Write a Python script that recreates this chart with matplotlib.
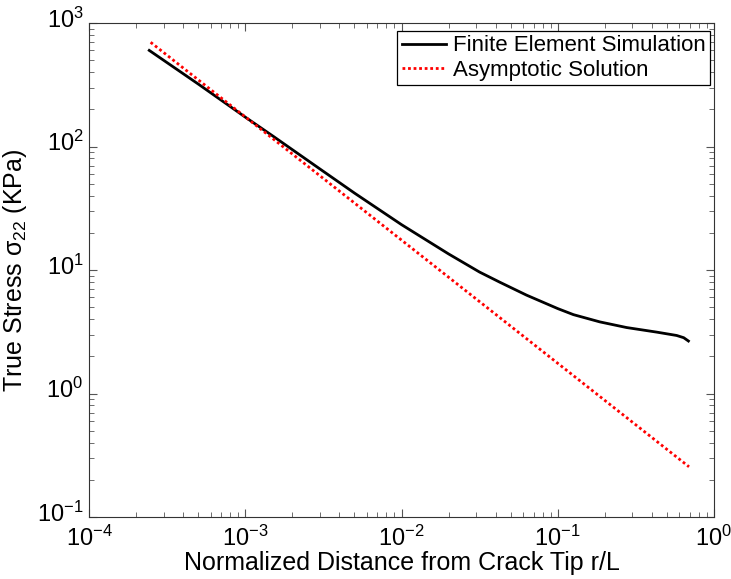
import matplotlib
matplotlib.use("Agg")
import matplotlib.pyplot as plt
from matplotlib.ticker import LogLocator, NullFormatter
from matplotlib.transforms import ScaledTranslation

plt.rcParams['font.family'] = ['Liberation Sans', 'DejaVu Sans']
plt.rcParams['mathtext.fontset'] = 'custom'
plt.rcParams['mathtext.rm'] = 'Liberation Sans'
plt.rcParams['mathtext.it'] = 'Liberation Sans'
plt.rcParams['mathtext.default'] = 'regular'

# Finite element stress distribution ahead of the crack tip
fe_r = [2.43e-4, 5.01e-4, 1.0e-3, 1.51e-3, 3.02e-3, 5.01e-3, 1.0e-2, 0.0200,
        0.0316, 0.0427, 0.0631, 0.100, 0.126, 0.186, 0.276, 0.430, 0.577,
        0.640, 0.686]
fe_s = [600, 320, 173, 121, 65.5, 41.9, 23.3, 13.5,
        9.62, 7.95, 6.26, 4.87, 4.35, 3.80, 3.42, 3.14, 2.95,
        2.83, 2.66]

# Asymptotic solution (straight line in log-log space)
as_r = [2.48e-4, 0.692]
as_s = [698, 0.255]

fig = plt.figure(figsize=(7.31, 5.79), dpi=100)
ax = fig.add_axes([89 / 731, 1 - 517 / 579, (714 - 89) / 731, (517 - 23) / 579])

ax.loglog(fe_r, fe_s, color='black', lw=2.0, label='Finite Element Simulation',
          solid_joinstyle='round')
ax.loglog(as_r, as_s, color='red', lw=2.0, ls=(0, (1, 1)), label='Asymptotic Solution')

ax.set_xlim(1e-4, 1e0)
ax.set_ylim(1e-1, 1e3)

ax.xaxis.set_major_locator(LogLocator(base=10, numticks=10))
ax.yaxis.set_major_locator(LogLocator(base=10, numticks=10))
ax.xaxis.set_minor_locator(LogLocator(base=10, subs=range(2, 10), numticks=20))
ax.yaxis.set_minor_locator(LogLocator(base=10, subs=range(2, 10), numticks=20))
ax.xaxis.set_minor_formatter(NullFormatter())
ax.yaxis.set_minor_formatter(NullFormatter())

ax.tick_params(which='both', direction='in', top=True, right=True, labelsize=17,
               color='#555555')
ax.tick_params(which='major', length=6, width=0.8)
ax.tick_params(which='minor', length=3.5, width=0.6)
ax.tick_params(axis='x', which='major', pad=6)
ax.tick_params(axis='y', which='major', pad=4)
for s in ax.spines.values():
    s.set_linewidth(0.8)
    s.set_color('#333333')

# Keep the base "10" of each y tick label centred on its tick
lift = ScaledTranslation(0, 4 / 72, fig.dpi_scale_trans)
for lab in ax.get_yticklabels():
    lab.set_transform(lab.get_transform() + lift)

ax.set_xlabel('Normalized Distance from Crack Tip r/L', fontsize=18, labelpad=0)
ax.set_ylabel('True Stress $\\sigma_{22}$ (KPa)', fontsize=18, labelpad=6)

leg = ax.legend(loc='upper right', bbox_to_anchor=((710 - 89) / 625, 1 - (31 - 23) / 494),
                borderaxespad=0, fontsize=16, frameon=True, fancybox=False,
                edgecolor='black', framealpha=1,
                handlelength=2.0, handletextpad=0.3, borderpad=0.2,
                labelspacing=0.15)
leg.get_frame().set_linewidth(0.9)

fig.savefig('out.png', dpi=100)
